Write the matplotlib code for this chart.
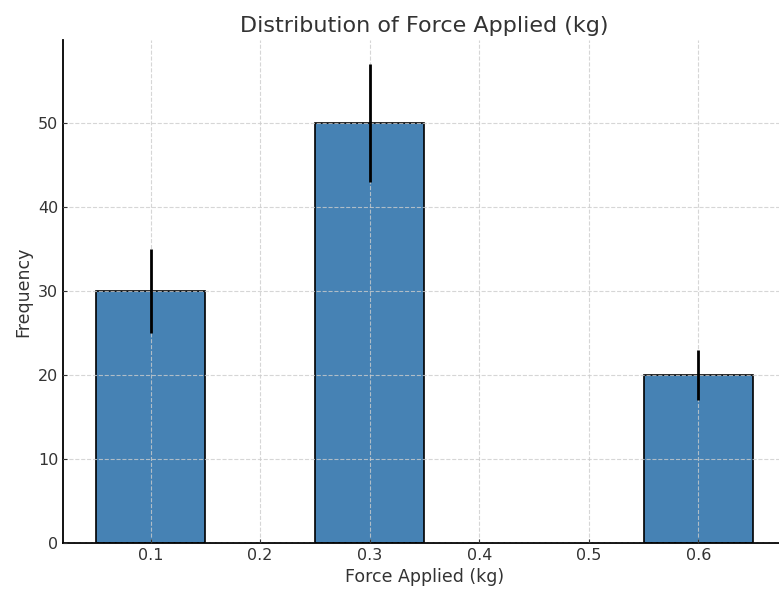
import matplotlib
matplotlib.use("Agg")
import matplotlib.pyplot as plt

force = [0.1, 0.3, 0.6]
frequency = [30, 50, 20]
errors = [5, 7, 3]

plt.rcParams["text.color"] = "#333333"
plt.rcParams["axes.labelcolor"] = "#333333"
plt.rcParams["xtick.color"] = "#333333"
plt.rcParams["ytick.color"] = "#333333"

fig = plt.figure(figsize=(7.79, 5.9), dpi=100)
ax = fig.add_axes([63 / 779, 47 / 590, 723 / 779, 503 / 590])

ax.bar(force, frequency, width=0.1, yerr=errors, color="#4682B4",
       edgecolor="black", linewidth=1.2,
       error_kw=dict(ecolor="black", elinewidth=2, capsize=0, zorder=3))

ax.set_axisbelow(False)
ax.grid(True, linestyle="--", color="#cccccc", linewidth=0.8, alpha=0.8)
ax.spines["top"].set_visible(False)
ax.spines["right"].set_visible(False)
ax.spines["left"].set_linewidth(1.3)
ax.spines["bottom"].set_linewidth(1.3)
ax.tick_params(direction="in", length=3, labelsize=11.5)

ax.set_title("Distribution of Force Applied (kg)", fontsize=16, pad=6)
ax.set_xlabel("Force Applied (kg)", fontsize=12.5)
ax.set_ylabel("Frequency", fontsize=12.5)

fig.savefig("out.png", dpi=100)
